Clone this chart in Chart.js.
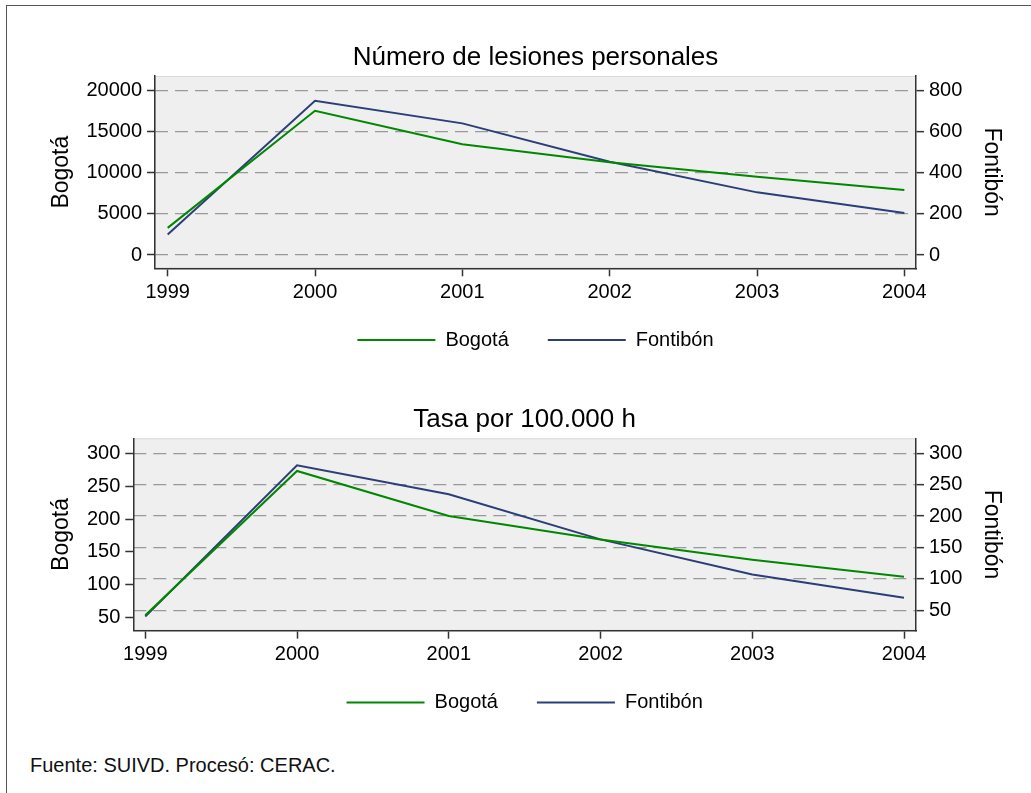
<!DOCTYPE html>
<html>
<head>
<meta charset="utf-8">
<script src="https://cdn.jsdelivr.net/npm/chart.js@4"></script>
<style>
  body { margin: 0; background: #fff; width: 1031px; height: 793px; overflow: hidden; position: relative; font-family: Arial, "Liberation Sans", sans-serif; }
  #frame { position: absolute; left: 6px; top: 5px; width: 1100px; height: 900px; border-left: 1px solid #555; border-top: 1px solid #555; }
  .box { position: absolute; left: 0; width: 1031px; }
  #box1 { top: 0; height: 380px; }
  #box2 { top: 380px; height: 370px; }
  #fuente { position: absolute; left: 30px; top: 753px; font-size: 20px; line-height: 24px; color: #111; }
</style>
</head>
<body>
<div id="frame"></div>
<div class="box" id="box1"><canvas id="chart1" width="1031" height="380"></canvas></div>
<div class="box" id="box2"><canvas id="chart2" width="1031" height="370"></canvas></div>
<div id="fuente">Fuente: SUIVD. Procesó: CERAC.</div>
<script>
// Datos
const years = [1999, 2000, 2001, 2002, 2003, 2004];
const lesionesBogota = [3300, 17560, 13470, 11280, 9530, 7910];
const lesionesFontibon = [100, 751, 641, 454, 305, 204];
const tasaBogota = [53, 274, 205, 169, 138, 112];
const tasaFontibon = [40, 281, 235, 163, 107, 70];
const ticksLesionesBogota = [0, 5000, 10000, 15000, 20000];
const ticksLesionesFontibon = [0, 200, 400, 600, 800];
const ticksTasa = [50, 100, 150, 200, 250, 300];

const GREEN = "#008800";
const NAVY = "#2c3e78";
const AXIS = "#333333";
const GRID = "#999999";

Chart.defaults.font.family = 'Arial, "Liberation Sans", sans-serif';
Chart.defaults.color = "#000";

// fondo gris del área del gráfico
const plotBg = {
  id: "plotBg",
  beforeDraw(chart) {
    const { ctx, chartArea: a } = chart;
    ctx.save();
    ctx.fillStyle = "#efefef";
    ctx.fillRect(a.left, a.top, a.right - a.left, a.bottom - a.top);
    ctx.strokeStyle = "#dadada";
    ctx.lineWidth = 1;
    ctx.strokeRect(a.left + 0.5, a.top + 0.5, a.right - a.left - 1, a.bottom - a.top - 1);
    ctx.restore();
  }
};

// sube la leyenda un poco (las etiquetas del eje x necesitan su caja completa)
const legendShift = {
  id: "legendShift",
  afterLayout(chart) {
    if (chart.legend) {
      chart.legend.top -= 15.3;
      chart.legend.bottom -= 15.3;
    }
  }
};

function setTicks(values) {
  return scale => { scale.ticks = values.map(v => ({ value: v })); };
}

function buildChart(id, o) {
  const el = document.getElementById(id);
  return new Chart(el, {
    type: "line",
    data: {
      datasets: [
        {
          label: "Bogotá",
          data: years.map((y, i) => ({ x: y, y: o.bogota[i] })),
          yAxisID: "yL",
          borderColor: GREEN, backgroundColor: GREEN,
          borderWidth: 2, pointRadius: 0, tension: 0
        },
        {
          label: "Fontibón",
          data: years.map((y, i) => ({ x: y, y: o.fontibon[i] })),
          yAxisID: "yR",
          borderColor: NAVY, backgroundColor: NAVY,
          borderWidth: 2, pointRadius: 0, tension: 0
        }
      ]
    },
    options: {
      responsive: false,
      animation: false,
      devicePixelRatio: 1,
      layout: { padding: { left: 0, right: 0, top: 0, bottom: o.padBottom } },
      plugins: {
        title: {
          display: true, text: o.title, fullSize: false,
          font: { size: 26, weight: "normal" }, color: "#000",
          padding: { top: o.titleTop, bottom: o.titleBottom }
        },
        legend: {
          position: "bottom", fullSize: false,
          labels: {
            boxWidth: 78, boxHeight: 2, padding: 39,
            font: { size: 20 }, color: "#000",
            generateLabels: chart =>
              Chart.defaults.plugins.legend.labels.generateLabels(chart).map(l => ({ ...l, lineWidth: 0 }))
          }
        },
        tooltip: { enabled: false }
      },
      scales: {
        x: {
          type: "linear", min: o.xMin, max: o.xMax,
          afterBuildTicks: setTicks(years),
          afterFit: s => { s.height = 38; },
          ticks: { callback: v => String(v), font: { size: 20 }, color: "#000", padding: 4, autoSkip: false, maxRotation: 0 },
          grid: { drawOnChartArea: false, tickLength: 8, tickColor: AXIS, tickWidth: 1.5 },
          border: { color: AXIS, width: 1.5 }
        },
        yL: {
          position: "left", min: o.lMin, max: o.lMax,
          afterBuildTicks: setTicks(o.lTicks),
          afterFit: s => { s.width = o.leftWidth; },
          title: { display: true, text: "Bogotá", font: { size: 23 }, color: "#000", padding: { top: 47.5, bottom: 0 } },
          ticks: { callback: v => String(v), font: { size: 20 }, color: "#000", padding: 5 },
          grid: { drawOnChartArea: false, tickLength: 8, tickColor: AXIS, tickWidth: 1.5 },
          border: { color: AXIS, width: 1.5 }
        },
        yR: {
          position: "right", min: o.rMin, max: o.rMax,
          afterBuildTicks: setTicks(o.rTicks),
          afterFit: s => { s.width = 115; },
          title: { display: true, text: "Fontibón", font: { size: 23 }, color: "#000", padding: { top: 26, bottom: 0 } },
          ticks: { callback: v => String(v), font: { size: 20 }, color: "#000", padding: 5 },
          grid: { drawOnChartArea: true, color: GRID, lineWidth: 1.3, tickLength: 8, tickColor: AXIS, tickWidth: 1.5 },
          border: { color: AXIS, width: 1.5, dash: [13, 7] }
        }
      }
    },
    plugins: [plotBg, legendShift]
  });
}

buildChart("chart1", {
  title: "Número de lesiones personales",
  bogota: lesionesBogota, fontibon: lesionesFontibon,
  lTicks: ticksLesionesBogota, rTicks: ticksLesionesFontibon,
  lMin: -1620, lMax: 21790, rMin: -64.8, rMax: 871.6,
  xMin: 1998.914, xMax: 2004.079,
  titleTop: 42.4, titleBottom: 2.4,
  leftWidth: 155, padBottom: 4.7
});

buildChart("chart2", {
  title: "Tasa por 100.000 h",
  bogota: tasaBogota, fontibon: tasaFontibon,
  lTicks: ticksTasa, rTicks: ticksTasa,
  lMin: 29.5, lMax: 324, rMin: 17.5, rMax: 324,
  xMin: 1998.921, xMax: 2004.079,
  titleTop: 24.4, titleBottom: 2.7,
  leftWidth: 133.3, padBottom: 12.3
});
</script>
</body>
</html>
